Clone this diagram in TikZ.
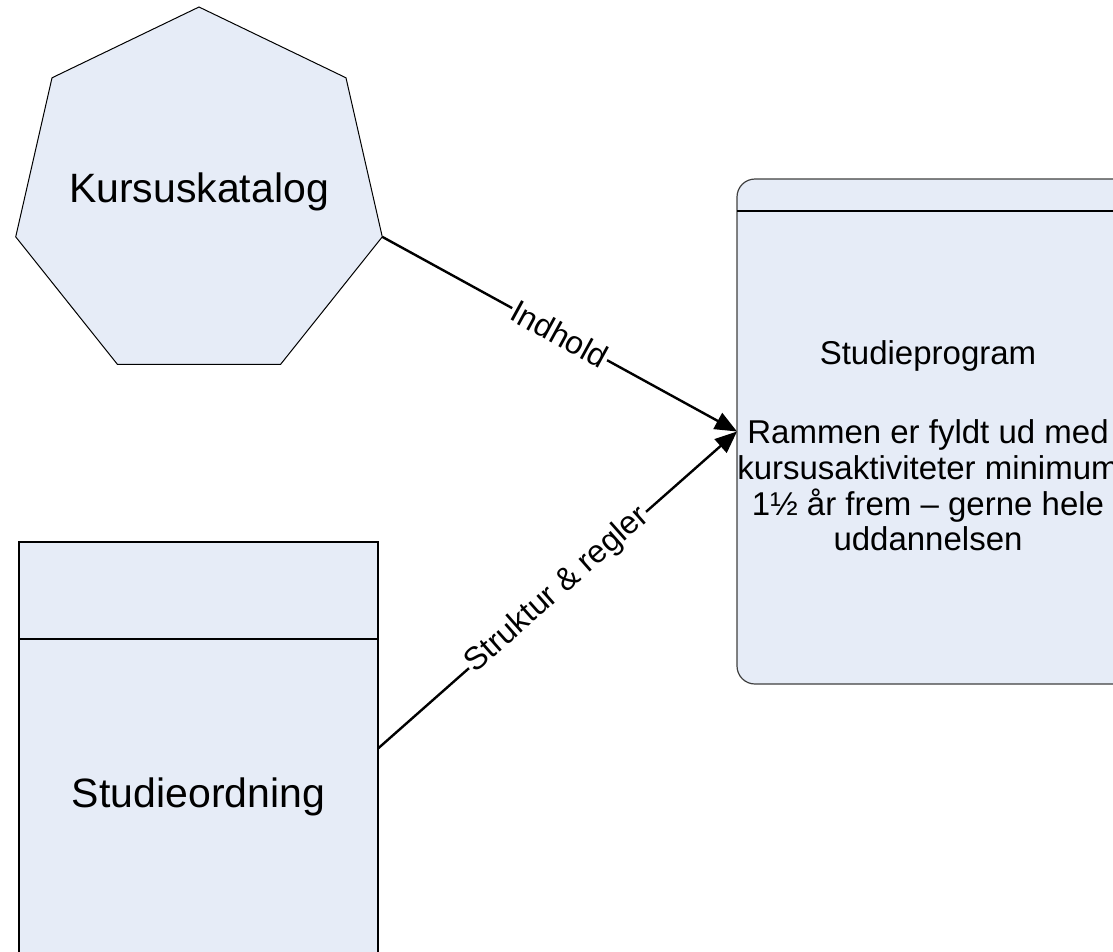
\documentclass[tikz,border=0pt]{standalone}
\usepackage{fontspec}
\setmainfont{Liberation Sans}
\usetikzlibrary{shapes.geometric,arrows.meta}
\definecolor{boksfyld}{HTML}{E6ECF7}

\begin{document}
\begin{tikzpicture}[x=1pt,y=-1pt,
    boks/.style={draw=black,line width=1.2pt,fill=boksfyld,inner sep=0pt,outer sep=0pt},
    stor/.style={font=\fontsize{41}{49}\selectfont},
    lille/.style={font=\fontsize{33}{35.7}\selectfont},
    pil/.style={line width=2.4pt,-{Triangle[length=22pt,width=18pt]}},
    etiket/.style={font=\fontsize{32}{36}\selectfont,fill=white,inner sep=1.5pt,sloped}]
    \useasboundingbox (0,0) rectangle (1113,951);
    \node[boks,line width=1pt,regular polygon,regular polygon sides=7,minimum size=376pt] (katalog) at (199,195) {};
    \node[stor] (katalognavn) at (199,192) {Kursuskatalog};
    \node[boks,minimum width=359pt,minimum height=413pt] (ordning) at (198.5,748.5) {};
    \draw[line width=1.2pt] ([yshift=-97pt]ordning.north west) -- ([yshift=-97pt]ordning.north east);
    \node[stor] (ordningnavn) at (198.5,797) {Studieordning};
    \node[boks,draw=black!75,rounded corners=18pt,minimum width=396pt,minimum height=505pt] (program) at (935,431.5) {};
    \draw[line width=1.2pt] ([yshift=-32pt]program.north west) -- ([yshift=-32pt]program.north east);
    \node[lille,align=center] (programtekst) at (928,446) {Studieprogram\\[43pt]Rammen er fyldt ud med\\kursusaktiviteter minimum\\1½ år frem – gerne hele\\uddannelsen};
    \draw[pil] (katalog.corner 6) -- node[etiket]{Indhold} (program.west);
    \draw[pil] (ordning.east) -- node[etiket]{Struktur \& regler} (program.west);
\end{tikzpicture}
\end{document}
